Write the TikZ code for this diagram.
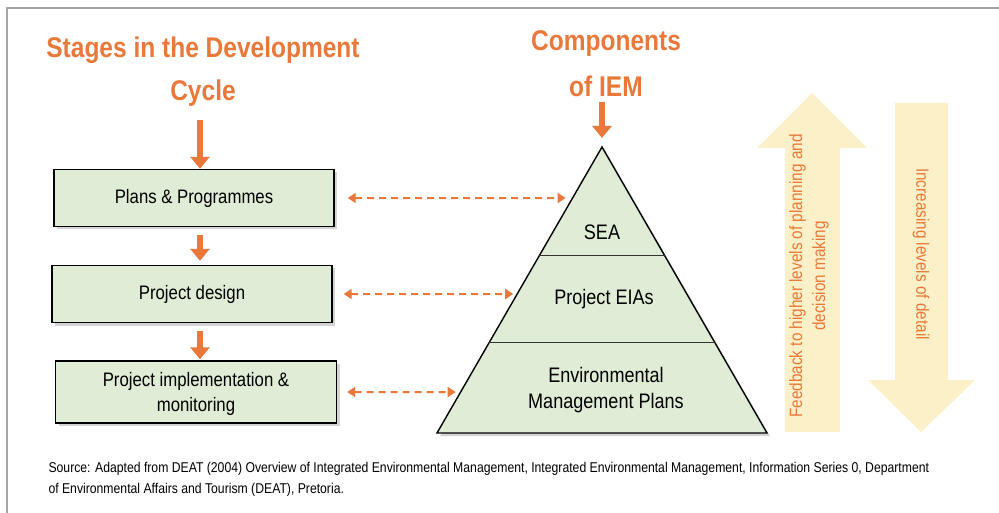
\documentclass[tikz,border=0pt]{standalone}
\usepackage{fontspec}
\setmainfont{Liberation Sans}[FakeStretch=0.86]
\usepackage{tikz}
\usetikzlibrary{calc, arrows.meta, shadows}
\definecolor{iemorange}{HTML}{E8793A}
\definecolor{iemgreen}{HTML}{DFEDD6}
\definecolor{iempale}{HTML}{FCF0C9}
\tikzset{
  stage/.style={draw=black, line width=1.4pt, fill=iemgreen, minimum width=280pt, minimum height=57pt, align=center, font=\fontsize{19.5}{25}\selectfont,
    drop shadow={shadow xshift=3pt, shadow yshift=-3pt, opacity=.35}},
  heading/.style={text=iemorange, font=\fontsize{28.5}{32}\selectfont\bfseries},
  layer/.style={align=center, font=\fontsize{21}{26}\selectfont},
  flow/.style={-{Triangle[width=19pt,length=12pt]}, line width=6.5pt, draw=iemorange},
  link/.style={{Triangle[width=10pt,length=8pt]}-{Triangle[width=10pt,length=8pt]}, line width=2pt, draw=iemorange, dash pattern=on 7pt off 5pt},
}
\begin{document}
\begin{tikzpicture}[x=1pt,y=-1pt]
    \useasboundingbox (0,0) rectangle (999,513);
    \draw[gray!70, line width=1.6pt] (7,513) -- (7,8) -- (999,8); %frame

    \node[heading] (stages) at (203,50) {Stages in the Development};
    \node[heading] (cycle) at (203,93) {Cycle};
    \node[heading] (comp) at (606,44) {Components};
    \node[heading] (ofiem) at (606,86) {of IEM};

    \node[stage] (plans) at (194,198) {Plans \& Programmes};
    \node[stage] (design) at (192,294) {Project design};
    \node[stage, minimum width=281pt, minimum height=62pt, text depth=0pt] (impl) at (196,392) {Project implementation \&\\monitoring};

    \coordinate (top1) at ([xshift=6pt]plans.north |- 0,120);
    \draw[flow] (top1) -- ([xshift=6pt]plans.north); %into plans
    \draw[flow, shorten <=8pt, shorten >=4pt] ([xshift=6pt]plans.south) -- ([xshift=8pt]design.north);
    \draw[flow, shorten <=8pt, shorten >=1pt] ([xshift=8pt]design.south) -- ([xshift=4pt]impl.north);

    %pyramid
    \coordinate (apex) at (602,147);
    \coordinate (bl) at (437,433);
    \coordinate (br) at (767,433);
    \filldraw[fill=iemgreen, draw=black, line width=1.4pt, line join=miter,
      drop shadow={shadow xshift=3pt, shadow yshift=-3pt, opacity=.35}] (apex) -- (br) -- (bl) -- cycle;
    \draw[gray!40!black, line width=1pt] ($(apex)!0.381!(bl)$) -- ($(apex)!0.381!(br)$);
    \draw[gray!40!black, line width=1pt] ($(apex)!0.685!(bl)$) -- ($(apex)!0.685!(br)$);
    \node[layer] (sea) at (602,232) {SEA};
    \node[layer] (eia) at (604,299) {Project EIAs};
    \node[layer] (emp) at (606,390) {Environmental\\Management Plans};
    \coordinate (top2) at (apex |- 0,102);
    \draw[flow, shorten >=9pt] (top2) -- (apex); %into pyramid

    %links
    \coordinate (far) at (999,0);
    \draw[link, shorten <=13pt, shorten >=7pt] (plans.east) -- (intersection of apex--bl and plans.east--{plans.east -| far});
    \draw[link, shorten <=11pt, shorten >=4pt] (design.east) -- (intersection of apex--bl and design.east--{design.east -| far});
    \draw[link, shorten <=10pt, shorten >=5pt] (impl.east) -- (intersection of apex--bl and impl.east--{impl.east -| far});

    %big arrows
    \fill[iempale] (785,432) -- (785,148) -- (757,148) -- (812,93) -- (867,148) -- (840,148) -- (840,432) -- cycle;
    \fill[iempale] (895,103) -- (948,103) -- (948,380) -- (975,380) -- (921,432) -- (868,380) -- (895,380) -- cycle;
    \node[rotate=90, text=iemorange, align=center, font=\fontsize{17.8}{23}\selectfont] (feedback) at (809,276) {Feedback to higher levels of planning and\\decision making};
    \node[rotate=-90, text=iemorange, font=\fontsize{17.8}{20}\selectfont] (detail) at (921,254) {Increasing levels of detail};

    \node[anchor=north west, align=left, font=\fontsize{14.2}{21}\selectfont] (source) at (45,459) {Source: Adapted from DEAT (2004) Overview of Integrated Environmental Management, Integrated Environmental Management, Information Series 0, Department\\of Environmental Affairs and Tourism (DEAT), Pretoria.};
\end{tikzpicture}
\end{document}
